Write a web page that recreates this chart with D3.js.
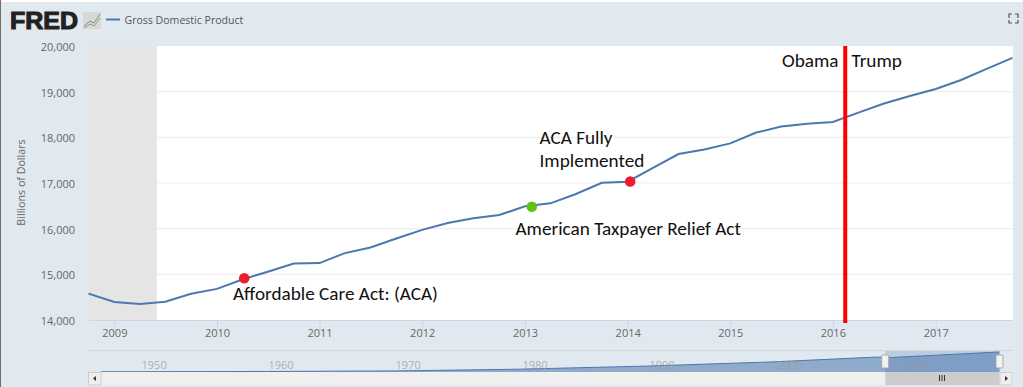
<!DOCTYPE html>
<html><head><meta charset="utf-8">
<script src="https://cdn.jsdelivr.net/npm/d3@7"></script>
<style>html,body{margin:0;padding:0;background:#fff}svg{display:block}</style>
</head><body><svg id="c" width="1023" height="387"></svg>
<script>
const quarters=["2008-10","2009-01","2009-04","2009-07","2009-10","2010-01","2010-04","2010-07","2010-10","2011-01","2011-04","2011-07","2011-10","2012-01","2012-04","2012-07","2012-10","2013-01","2013-04","2013-07","2013-10","2014-01","2014-04","2014-07","2014-10","2015-01","2015-04","2015-07","2015-10","2016-01","2016-04","2016-07","2016-10","2017-01","2017-04","2017-07","2017-10"];
const gdp=[14577,14394,14352,14398,14575,14681,14888,15058,15238,15246,15465,15588,15786,15973,16122,16227,16298,16490,16555,16759,17006,17028,17330,17635,17735,17868,18100,18235,18295,18335,18540,18740,18905,19060,19255,19500,19740];
const yTicks=[14000,15000,16000,17000,18000,19000,20000];
const xYears=[2009,2010,2011,2012,2013,2014,2015,2016,2017];
const navYears=[1950,1960,1970,1980,1990,2000,2010];
const navDates=["1947-01","1950-01","1960-01","1970-01","1980-01","1990-01","2000-01","2008-01","2009-04","2017-10"];
const navValues=[243,280,543,1040,2790,5870,10030,14700,14352,19740];
const recession=["2008-10","2009-06"];
const divider="2016-02-14";
const events=[{d:"2010-04-08",v:14913,c:"#ee1c2e"},{d:"2013-01-25",v:16481,c:"#5cc414"},{d:"2014-01-10",v:17033,c:"#ee1c2e"}];
const notes=[{t:"Affordable Care Act: (ACA)",x:233,y:300},{t:"American Taxpayer Relief Act",x:515.5,y:235},{t:"ACA Fully",x:539.5,y:144},{t:"Implemented",x:539.5,y:167},{t:"Obama",x:782,y:67},{t:"Trump",x:851.5,y:67}];

const parse=d=>new Date(d.length===7?d+"-01T00:00:00":d+"T00:00:00");
const svg=d3.select("#c");
const font="'Open Sans',sans-serif";
const L=88,R=1013,T=46,B=320;
svg.append("rect").attr("width",1023).attr("height",387).attr("fill","#fff");
svg.append("rect").attr("x",1).attr("y",2).attr("width",1022).attr("height",385).attr("fill","#e1e9f0");
svg.append("rect").attr("x",0).attr("y",0).attr("width",1).attr("height",387).attr("fill","#6e6e6e");
svg.append("rect").attr("x",L).attr("y",T).attr("width",R-L).attr("height",B-T).attr("fill","#fff");

const x=d3.scaleTime().domain([parse("2008-10"),parse("2017-10")]).range([L+.5,R-.5]);
const y=d3.scaleLinear().domain([14000,20000]).range([B,T]);

const gy=svg.append("g").attr("transform",`translate(${L},0)`).call(d3.axisLeft(y).tickValues(yTicks).tickSize(0).tickPadding(13).tickFormat(d3.format(",")));
gy.select(".domain").remove();
gy.selectAll("text").attr("fill","#666").attr("dy","0.42em").style("font",`11px ${font}`);
svg.append("g").selectAll("line").data(yTicks.slice(1,-1)).join("line")
 .attr("x1",L).attr("x2",R).attr("y1",d=>y(d)).attr("y2",d=>y(d)).attr("stroke","#efefef").attr("stroke-width",1.2);
svg.append("rect").attr("x",L).attr("y",T).attr("width",x(parse(recession[1]))-L).attr("height",B-T).attr("fill","#e5e5e5");

const gx=svg.append("g").attr("transform",`translate(0,${B})`).call(d3.axisBottom(x).tickValues(xYears.map(v=>parse(v+"-01"))).tickSize(10).tickSizeOuter(0).tickPadding(-1).tickFormat(d3.timeFormat("%Y")));
gx.select(".domain").attr("stroke","#ccd6eb");
gx.selectAll("line").attr("stroke","#ccd6eb");
gx.selectAll("text").attr("fill","#666").style("font",`11px ${font}`);

svg.append("text").attr("transform",`translate(25,182.5) rotate(-90)`).attr("text-anchor","middle").attr("fill","#666").style("font",`10.7px ${font}`).text("Billions of Dollars");

const line=d3.line().x((d,i)=>x(parse(quarters[i]))).y(d=>y(d));
svg.append("path").datum(gdp).attr("d",line).attr("fill","none").attr("stroke","#4c78ae").attr("stroke-width",2);

svg.append("line").attr("x1",x(parse(divider))).attr("x2",x(parse(divider))).attr("y1",T).attr("y2",B+3).attr("stroke","#fe0000").attr("stroke-width",4);
svg.append("g").selectAll("circle").data(events).join("circle").attr("cx",d=>x(parse(d.d))).attr("cy",d=>y(d.v)).attr("r",5.3).attr("fill",d=>d.c);
svg.append("g").selectAll("text").data(notes).join("text").attr("x",d=>d.x).attr("y",d=>d.y).attr("fill","#111").style("font","19.2px Carlito,Lato,sans-serif").text(d=>d.t);

// header
svg.append("text").attr("x",10).attr("y",29).attr("fill","#231f20").style("font","900 24px 'Liberation Sans',sans-serif").attr("textLength",68).attr("lengthAdjust","spacingAndGlyphs").attr("stroke","#231f20").attr("stroke-width",1.1).text("FRED");
svg.append("rect").attr("x",83).attr("y",12).attr("width",18).attr("height",17).attr("fill","#d8d8d4");
svg.append("polyline").attr("points","84,26 90,21 94,23 100,14").attr("fill","none").attr("stroke","#6d8fb3").attr("stroke-width",1);
svg.append("polyline").attr("points","84,28 90,24 94,26 100,18").attr("fill","none").attr("stroke","#8aaa60").attr("stroke-width",1);
svg.append("line").attr("x1",106).attr("x2",120).attr("y1",19.5).attr("y2",19.5).attr("stroke","#4c78ae").attr("stroke-width",2);
svg.append("text").attr("x",124.5).attr("y",24).attr("fill","#555").style("font",`10.55px ${font}`).text("Gross Domestic Product");
svg.append("path").attr("d","M1009 18v-4h3M1015 14h3v4M1018 20v3h-3M1012 23h-3v-3").attr("fill","none").attr("stroke","#555").attr("stroke-width",1.2);

// navigator
const NL=101,NR=999.5,NT=352,NB=372;
const nx=d3.scaleTime().domain([parse("1947-01"),parse("2017-10")]).range([NL,NR]);
const ny=d3.scaleLinear().domain([0,19740]).range([NB,NT]);
svg.append("line").attr("x1",L).attr("x2",R).attr("y1",350.5).attr("y2",350.5).attr("stroke","#d4d8dc");
const area=d3.area().x((d,i)=>nx(parse(navDates[i]))).y0(NB).y1(d=>ny(d));
const nl=d3.line().x((d,i)=>nx(parse(navDates[i]))).y(d=>ny(d));
svg.append("path").datum(navValues).attr("d",area).attr("fill","#4c78ae").attr("fill-opacity",.55);
svg.append("path").datum(navValues).attr("d",nl).attr("fill","none").attr("stroke","#4c78ae").attr("stroke-width",1);
const s0=nx(parse("2008-10")),s1=nx(parse("2017-10"));
svg.append("rect").attr("x",s0).attr("y",351).attr("width",s1-s0).attr("height",21).attr("fill","#4c78ae").attr("fill-opacity",.25);
svg.append("g").selectAll("text").data(navYears).join("text").attr("x",d=>nx(parse(d+"-01"))+15).attr("y",369).attr("text-anchor","middle").attr("fill","#999").attr("fill-opacity",.75).style("font",`11px ${font}`).text(d=>d);
svg.append("g").selectAll("rect").data([s0,s1]).join("rect").attr("x",d=>d-3.5).attr("y",355).attr("width",7).attr("height",13).attr("rx",1).attr("fill","#f2f2f2").attr("stroke","#aaa");
// scrollbar
svg.append("rect").attr("x",88).attr("y",372).attr("width",925).attr("height",13).attr("fill","#f0f0f0");
svg.append("rect").attr("x",88.5).attr("y",372.5).attr("width",12.5).attr("height",12.5).attr("fill","#eee").attr("stroke","#ccc");
svg.append("rect").attr("x",s0).attr("y",372).attr("width",s1-s0).attr("height",13).attr("fill","#ccc");
svg.append("rect").attr("x",1000).attr("y",372.5).attr("width",12).attr("height",12.5).attr("fill","#eee").attr("stroke","#ccc");
svg.append("path").attr("d","M96 376v5l-3-2.5zM1005 376v5l3-2.5z").attr("fill","#333");
svg.append("path").attr("d","M939.5 375v6M942 375v6M944.5 375v6").attr("stroke","#333");
</script></body></html>
